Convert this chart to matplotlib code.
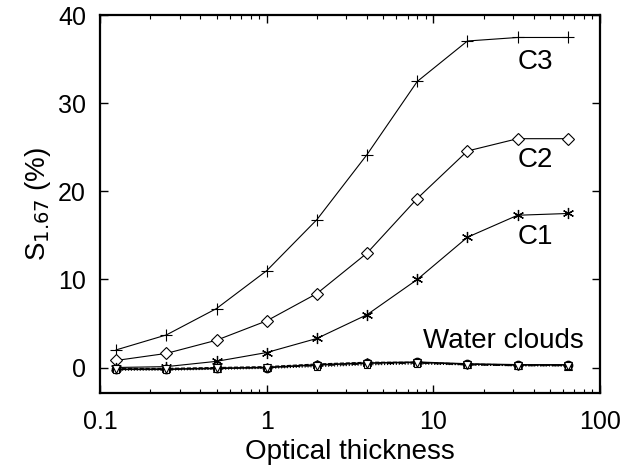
import numpy as np
import matplotlib
matplotlib.use("Agg")
import matplotlib.pyplot as plt

plt.rcParams['font.family'] = ['Liberation Sans', 'DejaVu Sans']

# optical thickness samples
tau = [0.125, 0.25, 0.5, 1, 2, 4, 8, 16, 32, 64]

# ice cloud cases
c1 = [0.0, 0.1, 0.7, 1.7, 3.3, 6.0, 10.0, 14.8, 17.3, 17.5]
c2 = [0.8, 1.6, 3.1, 5.3, 8.4, 13.0, 19.2, 24.6, 26.0, 26.0]
c3 = [2.0, 3.7, 6.7, 11.0, 16.8, 24.2, 32.5, 37.1, 37.5, 37.5]

# water cloud cases
w1 = [-0.2, -0.2, -0.1, 0.0, 0.3, 0.5, 0.6, 0.4, 0.3, 0.3]
w2 = [-0.1, -0.1, 0.0, 0.1, 0.4, 0.6, 0.6, 0.4, 0.3, 0.2]
w3 = [-0.3, -0.3, -0.2, -0.1, 0.1, 0.3, 0.4, 0.3, 0.2, 0.2]
w4 = [-0.2, -0.2, -0.1, 0.0, 0.2, 0.4, 0.5, 0.3, 0.2, 0.2]

fig = plt.figure(figsize=(6.29, 4.69), dpi=100)
ax = fig.add_axes([0.159, 0.162, 0.795, 0.805])

lw = 0.8
ax.plot(tau, c3, color='black', lw=lw, marker='+', ms=8, mew=0.8)
ax.plot(tau, c2, color='black', lw=lw, marker='D', ms=6, mfc='white', mew=0.8)
ax.plot(tau, c1, color='black', lw=lw, marker=(6, 2, 0), ms=8, mew=0.9)

ax.plot(tau, w1, color='black', lw=1.2, ls='-', marker='o', ms=6, mfc='white', mew=1.0)
ax.plot(tau, w2, color='black', lw=0.8, ls='--', marker='^', ms=6, mfc='white', mew=0.8)
ax.plot(tau, w3, color='black', lw=0.8, ls=':', marker='s', ms=5, mfc='white', mew=0.8)
ax.plot(tau, w4, color='black', lw=0.8, ls='-.', marker='v', ms=6, mfc='white', mew=0.8)

ax.set_xscale('log')
ax.set_xlim(0.1, 100)
ax.set_ylim(-2.9, 40)
ax.set_xticks([0.1, 1, 10, 100])
ax.set_xticklabels(['0.1', '1', '10', '100'])
ax.set_yticks([0, 10, 20, 30, 40])

ax.tick_params(which='both', direction='in', top=True, right=True, labelsize=18)
ax.tick_params(axis='x', pad=12)
ax.tick_params(axis='y', pad=10)
ax.tick_params(which='major', length=6, width=1)
ax.tick_params(which='minor', length=3, width=0.8)
for s in ax.spines.values():
    s.set_linewidth(1.6)

ax.text(40.7, 34.7, 'C3', fontsize=20, ha='center', va='center')
ax.text(40.7, 23.6, 'C2', fontsize=20, ha='center', va='center')
ax.text(40.7, 14.8, 'C1', fontsize=20, ha='center', va='center')
ax.text(26.2, 3.0, 'Water clouds', fontsize=20, ha='center', va='center')

ax.set_xlabel('Optical thickness', fontsize=20, labelpad=4)
ax.set_ylabel('S$_{1.67}$ (%)', fontsize=20, labelpad=4)

fig.savefig('out.png', dpi=100)
